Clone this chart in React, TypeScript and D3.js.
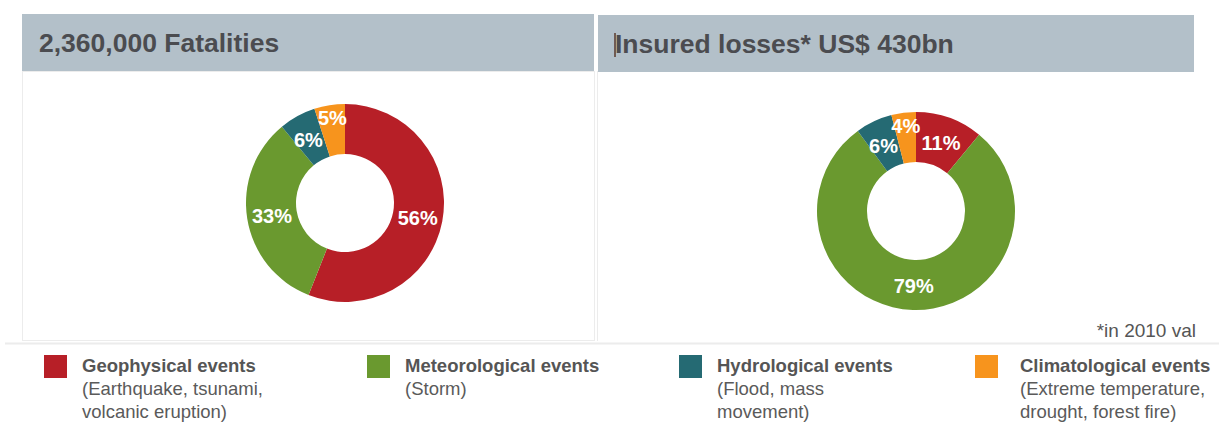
import React from "react";
import * as d3 from "d3";

const categories = ["Geophysical events", "Meteorological events", "Hydrological events", "Climatological events"];
const descriptions = [
  ["(Earthquake, tsunami,", "volcanic eruption)"],
  ["(Storm)"],
  ["(Flood, mass", "movement)"],
  ["(Extreme temperature,", "drought, forest fire)"],
];
const fatalities = [56, 33, 6, 5];
const insuredLosses = [11, 79, 6, 4];
const colors = ["#b71f27", "#6a992f", "#256a73", "#f7941d"];
const titles = ["2,360,000 Fatalities", "Insured losses* US$ 430bn"];
const footnote = "*in 2010 val";

const W = 1219;
const H = 424;
const FONT = "'Liberation Sans', Arial, Helvetica, sans-serif";

function Donut({ values, cx, cy }: { values: number[]; cx: number; cy: number }) {
  const pie = d3.pie<number>().sort(null).value((d) => d);
  const arcs = pie(values);
  const arc = d3.arc<d3.PieArcDatum<number>>().innerRadius(49).outerRadius(99);
  return (
    <g transform={`translate(${cx},${cy})`}>
      {arcs.map((a, i) => (
        <path key={i} d={arc(a) || ""} fill={colors[i]} />
      ))}
      {arcs.map((a, i) => {
        const [x, y] = arc.centroid(a);
        const last = i === arcs.length - 1;
        const prevSmall = i === arcs.length - 2;
        return (
          <text
            key={"t" + i}
            x={last ? x - 1 : prevSmall ? x - 1 : x}
            y={last ? y - 12 : prevSmall ? y + 2 : y + 1}
            dy="0.36em"
            textAnchor="middle"
            fill="#fff"
            fontFamily={FONT}
            fontWeight="bold"
            fontSize={20}
          >
            {a.data}%
          </text>
        );
      })}
    </g>
  );
}

export default function App() {
  const panels = [
    { x: 22, w: 572, y: 14, values: fatalities, cx: 345, cy: 203 },
    { x: 598, w: 596, y: 15, values: insuredLosses, cx: 916, cy: 211 },
  ];
  const legendX = [44, 367, 679, 975];
  const legendTextX = [82, 405, 717, 1020];
  return (
    <svg width={W} height={H} style={{ position: "absolute", left: 0, top: 0, background: "#fff" }}>
      <rect x={22.5} y={71.5} width={572} height={269} fill="none" stroke="#ececec" />
      <line x1={597.5} y1={71} x2={597.5} y2={341} stroke="#ececec" />
      <line x1={5} y1={343.5} x2={W} y2={343.5} stroke="#ececec" strokeWidth={2} />
      {panels.map((p, i) => (
        <g key={i}>
          <rect x={p.x} y={p.y} width={p.w} height={57} fill="#b3c0c9" />
          <text
            x={p.x + 17}
            y={p.y + 37.5}
            fill="#4b4c50"
            fontFamily={FONT}
            fontWeight="bold"
            fontSize={26.5}
          >
            {titles[i]}
          </text>
          <Donut values={p.values} cx={p.cx} cy={p.cy} />
        </g>
      ))}
      <line x1={615} y1={33} x2={615} y2={57} stroke="#5a3a2a" strokeWidth={1.5} />
      <text x={1196} y={337} textAnchor="end" fill="#555" fontFamily={FONT} fontSize={19}>
        {footnote}
      </text>
      {categories.map((c, i) => (
        <g key={c}>
          <rect x={legendX[i]} y={355} width={23} height={23} fill={colors[i]} />
          <text x={legendTextX[i]} y={372} fill="#555" fontFamily={FONT} fontWeight="bold" fontSize={18.5}>
            {c}
          </text>
          {descriptions[i].map((line, j) => (
            <text
              key={j}
              x={legendTextX[i]}
              y={395 + j * 23}
              fill="#5a5a5a"
              fontFamily={FONT}
              fontSize={18.5}
            >
              {line}
            </text>
          ))}
        </g>
      ))}
    </svg>
  );
}
